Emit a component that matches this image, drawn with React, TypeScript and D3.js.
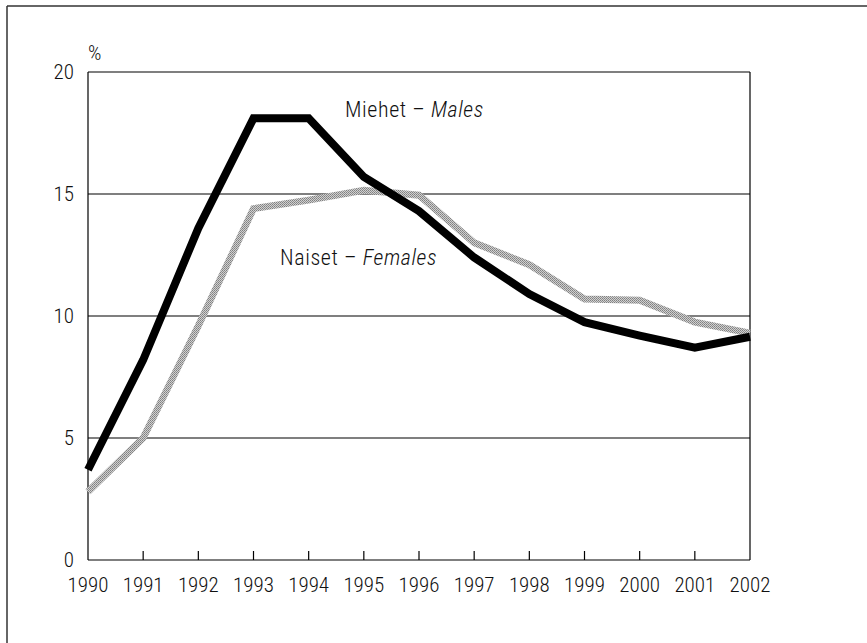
import React from 'react';
import { scaleLinear, line } from 'd3';

// values (per cent)
const years = [1990, 1991, 1992, 1993, 1994, 1995, 1996, 1997, 1998, 1999, 2000, 2001, 2002];
const males = [3.7, 8.2, 13.6, 18.1, 18.1, 15.7, 14.3, 12.4, 10.9, 9.75, 9.2, 8.7, 9.15];
const females = [2.8, 5.0, 9.6, 14.4, 14.75, 15.15, 14.95, 13.0, 12.1, 10.7, 10.65, 9.75, 9.3];
const yTicks = [0, 5, 10, 15, 20];

const W = 867;
const H = 643;
const font = "'Liberation Sans Narrow', 'Arial Narrow', 'Roboto Condensed', sans-serif";

export default function App() {
  const x = scaleLinear().domain([1990, 2002]).range([88, 750]);
  const y = scaleLinear().domain([0, 20]).range([560, 72]);

  const path = line<number>()
    .x((_, i) => x(years[i]))
    .y(d => y(d));

  const txt = { fontFamily: font, fill: '#111', fontWeight: 300 } as const;

  return (
    <svg width={W} height={H} style={{ position: 'absolute', left: 0, top: 0, background: '#fff' }}>
      <defs>
        <pattern id="stip" width="2" height="2" patternUnits="userSpaceOnUse">
          <rect width="2" height="2" fill="#d0d0d0" />
          <rect width="1" height="1" fill="#808080" />
          <rect x="1" y="1" width="1" height="1" fill="#909090" />
        </pattern>
      </defs>
      {/* outer frame */}
      <line x1={7} y1={6} x2={W} y2={6} stroke="#333" strokeWidth={1.5} />
      <line x1={7} y1={6} x2={7} y2={H} stroke="#333" strokeWidth={1.5} />

      {/* gridlines */}
      {yTicks.map(t => (
        <line key={t} x1={x(1990)} x2={x(2002)} y1={y(t)} y2={y(t)} stroke="#000" strokeWidth={1.2} />
      ))}
      <line x1={x(1990)} x2={x(1990)} y1={y(0)} y2={y(20)} stroke="#000" strokeWidth={1.2} />
      <line x1={x(2002)} x2={x(2002)} y1={y(0)} y2={y(20)} stroke="#000" strokeWidth={1.2} />
      {years.slice(1, -1).map(yr => (
        <line key={yr} x1={x(yr)} x2={x(yr)} y1={y(0)} y2={y(0) - 9} stroke="#000" strokeWidth={1.2} />
      ))}

      {/* y labels */}
      {yTicks.map(t => (
        <text key={t} x={74} y={y(t) + 7} textAnchor="end" fontSize={21} {...txt}>{t}</text>
      ))}
      <text x={88} y={60} fontSize={21} {...txt}>%</text>

      {/* x labels */}
      {years.map(yr => (
        <text key={yr} x={x(yr)} y={592} textAnchor="middle" fontSize={21} {...txt}>{yr}</text>
      ))}

      {/* series */}
      <path d={path(females) || ''} fill="none" stroke="url(#stip)" strokeWidth={7} strokeLinejoin="miter" />
      <path d={path(males) || ''} fill="none" stroke="#000" strokeWidth={8} strokeLinejoin="miter" />

      {/* labels */}
      <text x={345} y={117} fontSize={22} letterSpacing={0.6} {...txt}>
        Miehet – <tspan fontStyle="italic">Males</tspan>
      </text>
      <text x={280} y={265} fontSize={22} letterSpacing={0.6} {...txt}>
        Naiset – <tspan fontStyle="italic">Females</tspan>
      </text>
    </svg>
  );
}
